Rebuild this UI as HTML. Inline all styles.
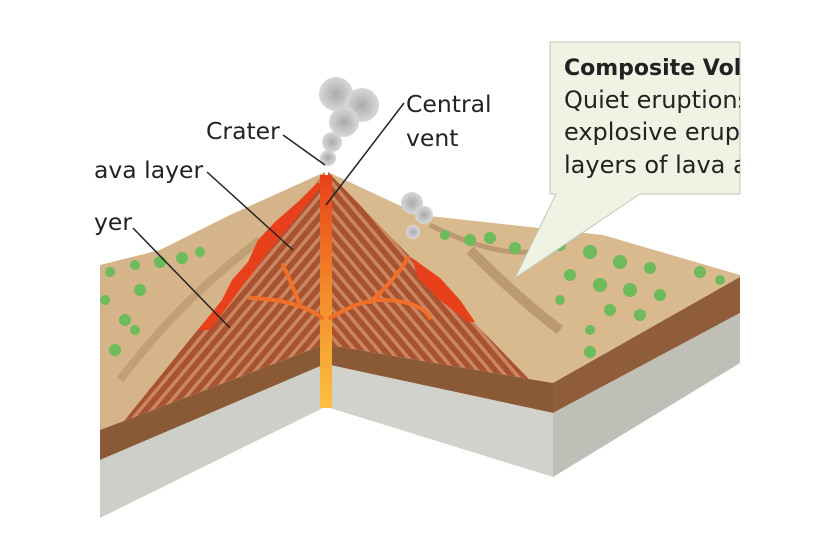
<!DOCTYPE html>
<html><head><meta charset="utf-8"><style>
html,body{margin:0;padding:0;background:#fff;}
svg{display:block}
text{font-family:"DejaVu Sans","Liberation Sans",sans-serif;fill:#222}
</style></head><body>
<svg width="840" height="560" viewBox="0 0 840 560" xmlns="http://www.w3.org/2000/svg">
<defs>
<pattern id="str" width="9" height="9" patternUnits="userSpaceOnUse" patternTransform="rotate(40)">
<rect width="9" height="9" fill="#a8522f"/><rect width="3.5" height="9" fill="#c98660"/>
</pattern>
<pattern id="str2" width="9" height="9" patternUnits="userSpaceOnUse" patternTransform="rotate(-40)">
<rect width="9" height="9" fill="#a8522f"/><rect width="3.5" height="9" fill="#c98660"/>
</pattern>
<linearGradient id="vent" x1="0" y1="0" x2="0" y2="1"><stop offset="0" stop-color="#e8401a"/><stop offset="0.5" stop-color="#f38a2a"/><stop offset="1" stop-color="#fbc040"/></linearGradient>
<radialGradient id="smk"><stop offset="0" stop-color="#aaa"/><stop offset="1" stop-color="#d8d8d8"/></radialGradient>
<clipPath id="cb"><rect x="550" y="42" width="190" height="153"/></clipPath>
</defs>
<polygon points="100,265 160,250 230,215 325,172 124,421 100,430" fill="#d6b48a"/>
<polygon points="328,172 420,215 603,235 740,275 740,277 553,383 529,379" fill="#d9b98e"/>
<path d="M120,380 Q180,300 260,240" stroke="#b08a60" stroke-width="8" fill="none" opacity=".5"/>
<path d="M470,250 Q520,300 560,330" stroke="#9e7c58" stroke-width="10" fill="none" opacity=".5"/>
<path d="M430,225 Q500,260 540,250" stroke="#9e7c58" stroke-width="5" fill="none" opacity=".5"/>
<polygon points="325,172 124,421 323,345" fill="url(#str)"/>
<polygon points="328,172 529,379 330,345" fill="url(#str2)"/>
<polygon points="100,430 124,421 323,345 323,365 100,460" fill="#8a5a36"/>
<polygon points="100,460 323,365 323,408 100,518" fill="#cfcfca"/>
<polygon points="330,345 529,379 553,383 553,413 330,365" fill="#8a5a36"/>
<polygon points="330,365 553,413 553,477 330,408" fill="#d2d2cc"/>
<polygon points="553,383 740,277 740,313 553,413" fill="#8f5d3a"/>
<polygon points="553,413 740,313 740,363 553,477" fill="#bfbfb8"/>
<rect x="320" y="175" width="12" height="233" fill="url(#vent)"/>
<g stroke="#f0702a" stroke-width="4" fill="none" stroke-linecap="round">
<path d="M322,318 Q300,300 250,298"/><path d="M300,305 Q290,280 283,265"/>
<path d="M330,318 Q360,300 380,300 Q420,300 430,318"/><path d="M370,302 Q395,280 408,258"/>
</g>
<path d="M318,182 L300,200 L275,222 L258,240 L248,262 L232,280 L222,300 L208,318 L198,330 L210,330 L238,292 L270,250 L322,186Z" fill="#e8401a"/>
<path d="M412,258 L440,278 L460,300 L475,322 L468,322 L440,300 L418,278Z" fill="#e8401a"/>
<g fill="#6dbb5a">
<circle cx="110" cy="272" r="5"/><circle cx="135" cy="265" r="5"/><circle cx="160" cy="262" r="6"/><circle cx="182" cy="258" r="6"/><circle cx="200" cy="252" r="5"/><circle cx="140" cy="290" r="6"/><circle cx="105" cy="300" r="5"/><circle cx="125" cy="320" r="6"/><circle cx="115" cy="350" r="6"/><circle cx="135" cy="330" r="5"/>
<circle cx="470" cy="240" r="6"/><circle cx="490" cy="238" r="6"/><circle cx="515" cy="248" r="6"/><circle cx="445" cy="235" r="5"/>
<circle cx="560" cy="245" r="6"/><circle cx="590" cy="252" r="7"/><circle cx="620" cy="262" r="7"/><circle cx="650" cy="268" r="6"/><circle cx="700" cy="272" r="6"/><circle cx="720" cy="280" r="5"/>
<circle cx="570" cy="275" r="6"/><circle cx="600" cy="285" r="7"/><circle cx="630" cy="290" r="7"/><circle cx="660" cy="295" r="6"/><circle cx="610" cy="310" r="6"/><circle cx="640" cy="315" r="6"/><circle cx="590" cy="330" r="5"/><circle cx="560" cy="300" r="5"/><circle cx="590" cy="352" r="6"/>
</g>
<g fill="url(#smk)"><circle cx="336" cy="94" r="17"/><circle cx="362" cy="105" r="17"/><circle cx="344" cy="122" r="15"/><circle cx="332" cy="142" r="10"/><circle cx="328" cy="158" r="8"/>
<circle cx="412" cy="203" r="11"/><circle cx="424" cy="215" r="9"/><circle cx="413" cy="232" r="7"/></g>
<polygon points="550,42 740,42 740,194 640,194 515,278 556,194 550,194" fill="#eef3e4" stroke="#bfc8b4" stroke-width="1"/>
<g clip-path="url(#cb)">
<text x="564" y="75" font-size="22" font-weight="bold">Composite Volcano</text>
<text x="564" y="108" font-size="24">Quiet eruptions</text>
<text x="564" y="140" font-size="24">explosive eruptions</text>
<text x="564" y="173" font-size="24">layers of lava and</text>
</g>
<text x="206" y="139" font-size="23.5">Crater</text>
<text x="406" y="112" font-size="23.5">Central</text>
<text x="406" y="146" font-size="23.5">vent</text>
<text x="94" y="178" font-size="23.5">ava layer</text>
<text x="94" y="230" font-size="23.5">yer</text>
<g stroke="#222" stroke-width="1.5">
<line x1="283" y1="135" x2="325" y2="165"/><line x1="404" y1="103" x2="326" y2="205"/>
<line x1="207" y1="172" x2="293" y2="250"/><line x1="133" y1="228" x2="230" y2="328"/>
</g>
</svg>
</body></html>
